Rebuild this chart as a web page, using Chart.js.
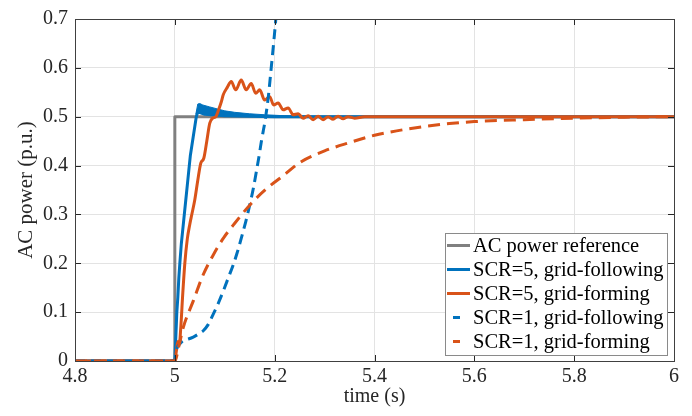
<!DOCTYPE html>
<html>
<head>
<meta charset="utf-8">
<script src="https://cdn.jsdelivr.net/npm/chart.js@4/dist/chart.umd.min.js"></script>
<style>
  html, body { margin: 0; padding: 0; background: #ffffff; }
  #wrap { width: 692px; height: 416px; }
</style>
</head>
<body>
<div id="wrap"><canvas id="c" width="692" height="416"></canvas></div>
<script>
// ---- data ----
const xTicks = [4.8, 5, 5.2, 5.4, 5.6, 5.8, 6];
const yTicks = [0, 0.1, 0.2, 0.3, 0.4, 0.5, 0.6, 0.7];

const seriesLabels = [
  "AC power reference",
  "SCR=5, grid-following",
  "SCR=5, grid-forming",
  "SCR=1, grid-following",
  "SCR=1, grid-forming"
];

const refT = [4.8, 5.0, 5.0, 6.0];
const refV = [0, 0, 0.5, 0.5];

const gfl5T = [4.8, 5.0, 5.002, 5.004, 5.006, 5.008, 5.01, 5.013, 5.016, 5.019, 5.022, 5.025, 5.028, 5.031, 5.034, 5.037, 5.04, 5.043, 5.046, 5.06, 5.1, 5.2, 5.4, 6.0];
const gfl5V = [0, 0, 0.05, 0.1, 0.13, 0.17, 0.2, 0.24, 0.27, 0.3, 0.33, 0.36, 0.39, 0.42, 0.44, 0.46, 0.48, 0.5, 0.51, 0.505, 0.502, 0.5, 0.5, 0.5];

// upper edge of the fast-oscillation band of the SCR=5 grid-following trace
const gfl5BandT = [5.042, 5.046, 5.05, 5.056, 5.07, 5.085, 5.1, 5.12, 5.15, 5.18, 5.22, 5.26, 5.3];
const gfl5BandV = [0.505, 0.526, 0.527, 0.524, 0.52, 0.516, 0.512, 0.509, 0.506, 0.504, 0.502, 0.501, 0.5];

const gfm5T = [4.8, 5.0, 5.003, 5.006, 5.009, 5.012, 5.016, 5.02, 5.025, 5.03, 5.034, 5.04, 5.046, 5.052, 5.058, 5.064, 5.07, 5.076, 5.082, 5.088, 5.093, 5.097, 5.105, 5.113, 5.122, 5.133, 5.143, 5.153, 5.162, 5.17, 5.18, 5.19, 5.198, 5.207, 5.217, 5.227, 5.237, 5.247, 5.257, 5.267, 5.277, 5.287, 5.297, 5.307, 5.317, 5.327, 5.337, 5.347, 5.36, 5.38, 5.4, 6.0];
const gfm5V = [0, 0, 0.02, 0.04, 0.035, 0.07, 0.14, 0.2, 0.25, 0.28, 0.3, 0.33, 0.37, 0.405, 0.415, 0.45, 0.487, 0.497, 0.5, 0.515, 0.53, 0.545, 0.56, 0.572, 0.555, 0.575, 0.555, 0.568, 0.548, 0.555, 0.534, 0.541, 0.524, 0.528, 0.514, 0.518, 0.504, 0.506, 0.497, 0.502, 0.494, 0.501, 0.494, 0.5, 0.495, 0.501, 0.496, 0.5, 0.497, 0.5, 0.5, 0.5];

const gfl1T = [4.8, 5.0, 5.003, 5.01, 5.017, 5.027, 5.037, 5.047, 5.057, 5.067, 5.077, 5.087, 5.097, 5.107, 5.117, 5.125, 5.133, 5.142, 5.15, 5.157, 5.163, 5.168, 5.173, 5.177, 5.18, 5.187, 5.193, 5.2, 5.204];
const gfl1V = [0, 0, 0.022, 0.035, 0.042, 0.045, 0.049, 0.055, 0.062, 0.075, 0.096, 0.118, 0.143, 0.17, 0.197, 0.222, 0.251, 0.285, 0.319, 0.352, 0.386, 0.415, 0.447, 0.47, 0.487, 0.538, 0.599, 0.673, 0.72];

const gfm1T = [4.8, 5.0, 5.008, 5.017, 5.037, 5.057, 5.077, 5.097, 5.117, 5.15, 5.183, 5.217, 5.25, 5.3, 5.35, 5.4, 5.45, 5.5, 5.55, 5.6, 5.7, 5.8, 5.9, 6.0];
const gfm1V = [0, 0, 0.03, 0.069, 0.123, 0.177, 0.217, 0.251, 0.278, 0.319, 0.352, 0.379, 0.406, 0.43, 0.447, 0.462, 0.472, 0.48, 0.486, 0.49, 0.494, 0.497, 0.499, 0.5];

// ---- styling ----
const GRAY = "#808080", BLUE = "#0072BD", ORANGE = "#D95319";
const FONT = "'Liberation Serif', 'Times New Roman', serif";

function pts(t, v) { return t.map((x, i) => ({ x: x, y: v[i] })); }

const datasets = [
  { label: seriesLabels[0], data: pts(refT, refV), borderColor: GRAY, borderWidth: 3, order: 6 },
  { label: "band", data: pts(gfl5BandT, gfl5BandV), borderColor: BLUE, borderWidth: 1, backgroundColor: BLUE, fill: { target: 2 }, order: 5 },
  { label: seriesLabels[1], data: pts(gfl5T, gfl5V), borderColor: BLUE, borderWidth: 3, order: 4 },
  { label: seriesLabels[2], data: pts(gfm5T, gfm5V), borderColor: ORANGE, borderWidth: 3, order: 3, cubicInterpolationMode: "monotone" },
  { label: seriesLabels[3], data: pts(gfl1T, gfl1V), borderColor: BLUE, borderWidth: 3, borderDash: [10, 6], order: 2, cubicInterpolationMode: "monotone" },
  { label: seriesLabels[4], data: pts(gfm1T, gfm1V), borderColor: ORANGE, borderWidth: 3, borderDash: [12, 7], order: 1, cubicInterpolationMode: "monotone" }
];
datasets.forEach(d => { d.pointRadius = 0; d.tension = d.cubicInterpolationMode ? 0.4 : 0; if (d.fill === undefined) d.fill = false; d.borderJoinStyle = "round"; });

const legendItems = [
  { color: GRAY, dashed: false },
  { color: BLUE, dashed: false },
  { color: ORANGE, dashed: false },
  { color: BLUE, dashed: true },
  { color: ORANGE, dashed: true }
];

const frame = {
  id: "frame",
  afterDraw(chart) {
    const ctx = chart.ctx, a = chart.chartArea;
    const xs = chart.scales.x, ys = chart.scales.y;
    ctx.save();
    ctx.strokeStyle = "#262626";
    ctx.lineWidth = 1;
    ctx.beginPath();
    const tl = 6;
    xTicks.forEach(t => {
      const px = Math.round(xs.getPixelForValue(t)) + 0.5;
      ctx.moveTo(px, a.bottom); ctx.lineTo(px, a.bottom - tl);
      ctx.moveTo(px, a.top); ctx.lineTo(px, a.top + tl);
    });
    yTicks.forEach(v => {
      const py = Math.round(ys.getPixelForValue(v)) + 0.5;
      ctx.moveTo(a.left, py); ctx.lineTo(a.left + tl, py);
      ctx.moveTo(a.right, py); ctx.lineTo(a.right - tl, py);
    });
    ctx.stroke();
    ctx.strokeStyle = "#404040";
    ctx.strokeRect(Math.round(a.left) + 0.5, Math.round(a.top) + 0.5, Math.round(a.right - a.left), Math.round(a.bottom - a.top));

    // legend
    const lx = 445, ly = 233, lw = 222, lh = 122, rowH = 24;
    ctx.fillStyle = "#ffffff";
    ctx.fillRect(lx, ly, lw, lh);
    ctx.strokeStyle = "#8a8a8a";
    ctx.lineWidth = 1;
    ctx.strokeRect(lx + 0.5, ly + 0.5, lw, lh);
    ctx.font = "20.5px " + FONT;
    ctx.textBaseline = "middle";
    ctx.textAlign = "left";
    legendItems.forEach((it, i) => {
      const cy = ly + 12.5 + i * rowH;
      ctx.strokeStyle = it.color;
      ctx.lineWidth = 3;
      ctx.beginPath();
      if (it.dashed) { ctx.moveTo(453, cy); ctx.lineTo(460, cy); }
      else { ctx.moveTo(447, cy); ctx.lineTo(470, cy); }
      ctx.stroke();
      ctx.fillStyle = "#000000";
      ctx.fillText(seriesLabels[i], 473, cy + 1);
    });
    ctx.restore();
  }
};

new Chart(document.getElementById("c"), {
  type: "line",
  data: { datasets: datasets },
  options: {
    responsive: false,
    animation: false,
    devicePixelRatio: 1,
    layout: { padding: { left: 0, top: 15, right: 18, bottom: 0 } },
    plugins: { legend: { display: false }, tooltip: { enabled: false } },
    scales: {
      x: {
        type: "linear", min: 4.8, max: 6,
        afterBuildTicks: s => { s.ticks = xTicks.map(v => ({ value: v })); },
        afterFit: s => { s.height = 55; },
        grid: { color: "#e3e3e3", lineWidth: 1, drawTicks: false },
        border: { display: false },
        ticks: { color: "#262626", font: { family: FONT, size: 20 }, padding: 4, maxRotation: 0, autoSkip: false,
                 callback: v => String(v) },
        title: { display: true, text: "time (s)", color: "#262626", font: { family: FONT, size: 20 }, padding: { top: 0, bottom: 7 } }
      },
      y: {
        type: "linear", min: 0, max: 0.7,
        afterBuildTicks: s => { s.ticks = yTicks.map(v => ({ value: v })); },
        afterFit: s => { s.width = 75; },
        grid: { color: "#e3e3e3", lineWidth: 1, drawTicks: false },
        border: { display: false },
        ticks: { color: "#262626", font: { family: FONT, size: 20 }, padding: 7, autoSkip: false,
                 callback: v => String(v) },
        title: { display: true, text: "AC power (p.u.)", color: "#262626", font: { family: FONT, size: 21 }, padding: { top: 14, bottom: 0 } }
      }
    }
  },
  plugins: [frame]
});
</script>
</body>
</html>
